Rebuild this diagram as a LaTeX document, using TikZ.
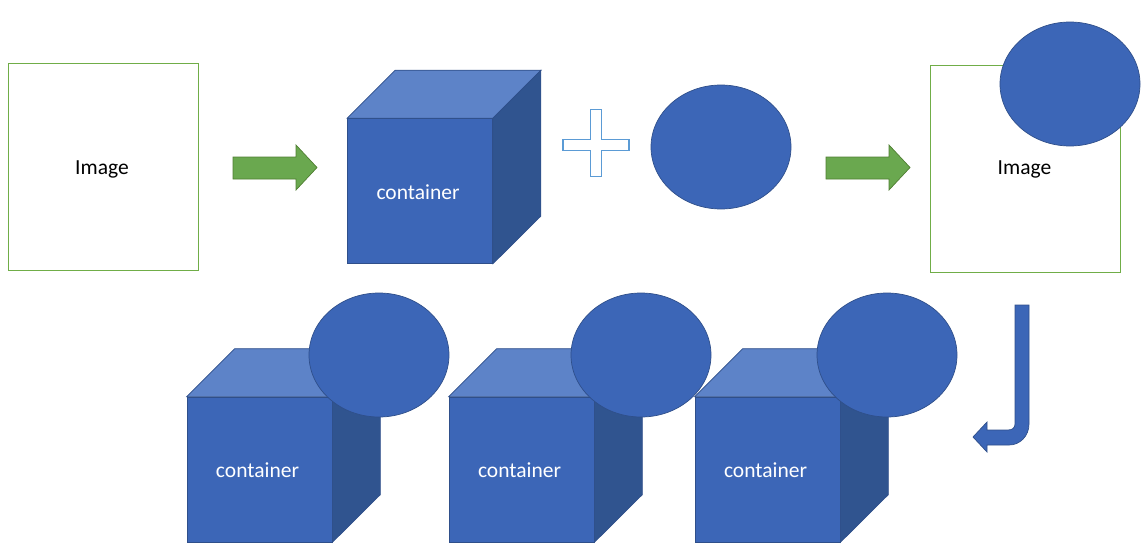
\documentclass[tikz,border=0pt]{standalone}
\usepackage{fontspec}
\setmainfont{Carlito}
\usetikzlibrary{shapes.geometric}
\definecolor{cfront}{HTML}{3C66B7}
\definecolor{ctop}{HTML}{5D83C8}
\definecolor{cside}{HTML}{30548F}
\definecolor{cedge}{HTML}{2F4F8A}
\definecolor{gfill}{HTML}{6AA84F}
\definecolor{gedge}{HTML}{507E32}
\definecolor{gline}{HTML}{70AD47}
\definecolor{plusline}{HTML}{5B9BD5}
\tikzset{
  imgbox/.style={draw=gline, line width=0.8pt, fill=white, minimum width=190pt, minimum height=207pt, inner sep=0pt},
  labeltext/.style={inner sep=0pt, font=\fontsize{21.5}{25}\selectfont},
  cubefront/.style={draw=cedge, line width=0.7pt, fill=cfront, minimum width=145pt, minimum height=145pt, inner sep=0pt},
  cubetop/.style={draw=cedge, line width=0.7pt, fill=ctop},
  cubeside/.style={draw=cedge, line width=0.7pt, fill=cside},
  ball/.style={ellipse, draw=cedge, line width=0.7pt, fill=cfront, minimum width=140pt, minimum height=124pt, inner sep=0pt},
  greenarrow/.style={draw=gedge, line width=0.7pt, fill=gfill},
  bluearrow/.style={draw=cedge, line width=0.7pt, fill=cfront},
  plusshape/.style={draw=plusline, line width=1.1pt, fill=white}
}
\newcommand{\mycube}[3]{%
  \node[cubefront] (#1) at (#2,#3) {};
  \draw[cubetop] (#1.north west) -- ++(48,-48) -- ++(146,0) -- (#1.north east) -- cycle;
  \draw[cubeside] (#1.north east) -- ++(48,-48) -- ++(0,146) -- (#1.south east) -- cycle;
  \node[labeltext, text=white] (#1text) at ([xshift=-2pt,yshift=-1pt]#1.center) {container};
}
\begin{document}
\begin{tikzpicture}[x=1pt,y=-1pt]
\useasboundingbox (0,0) rectangle (1148,557);
% top row
\node[imgbox] (img1) at (103,167) {};
\node[labeltext] (img1text) at ([xshift=-1pt,yshift=-2pt]img1.center) {Image};
\coordinate (ga1) at (233,157);
\draw[greenarrow] (ga1) -- ++(63,0) -- ++(0,-12) -- ++(21,22.5) -- ++(-21,22.5) -- ++(0,-11) -- ++(-63,0) -- cycle;
\mycube{cube1}{420}{191}
\coordinate (plus) at (596,145);
\draw[plusshape] (plus) ++(-33,-5.5) -- ++(27.5,0) -- ++(0,-30) -- ++(11,0) -- ++(0,30) -- ++(27.5,0) -- ++(0,11) -- ++(-27.5,0) -- ++(0,26) -- ++(-11,0) -- ++(0,-26) -- ++(-27.5,0) -- cycle;
\node[ball] (ball1) at (721,147) {};
\coordinate (ga2) at (826,157);
\draw[greenarrow] (ga2) -- ++(63,0) -- ++(0,-12) -- ++(21,22.5) -- ++(-21,22.5) -- ++(0,-11) -- ++(-63,0) -- cycle;
\node[imgbox] (img2) at (1025.5,168.5) {};
\node[labeltext] (img2text) at ([xshift=-1pt,yshift=-1pt]img2.center) {Image};
\node[ball] (ball2) at (1070,84) {};
% bent arrow
\coordinate (ba) at (1015,305);
\draw[bluearrow] (ba) -- ++(14,0) -- (1029,424) .. controls (1029,436) and (1020,445) .. (1009,445) -- (987,445) -- (987,452) -- (973,437) -- (987,422) -- (987,430) -- (1008,430) .. controls (1012,430) and (1015,428) .. (1015,424) -- cycle;
% bottom row
\mycube{cubeA}{259.5}{469.5}
\node[ball] (ballA) at (379,355) {};
\mycube{cubeB}{521.5}{469.5}
\node[ball] (ballB) at (641,355) {};
\mycube{cubeC}{767.5}{469.5}
\node[ball] (ballC) at (887,355) {};
\end{tikzpicture}
\end{document}
